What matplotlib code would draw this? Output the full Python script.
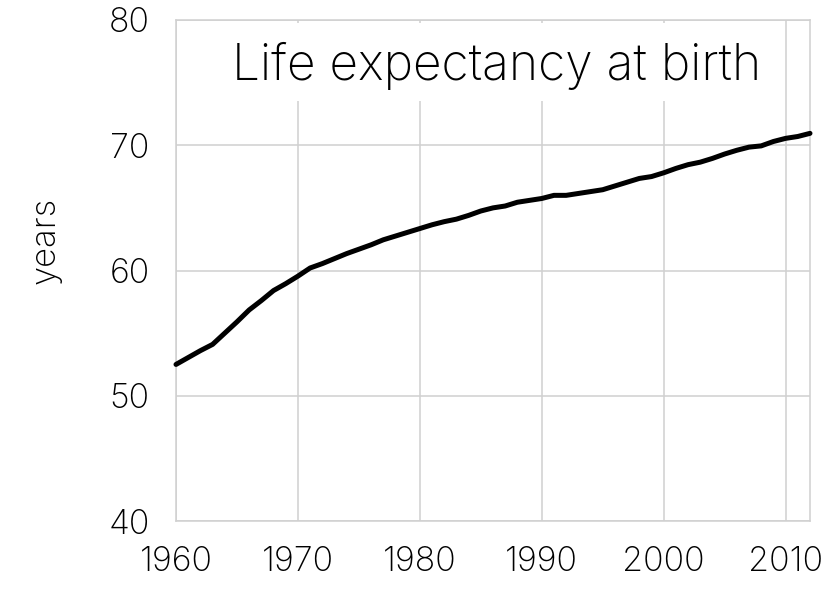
import numpy as np
import matplotlib
matplotlib.use("Agg")
import matplotlib.pyplot as plt
from matplotlib.patches import Rectangle

# world life expectancy at birth
years = list(range(1960, 2013))
life_exp = [52.5, 53.05, 53.6, 54.1, 55.0, 55.9, 56.85, 57.6, 58.4, 58.95,
            59.55, 60.2, 60.55, 60.95, 61.35, 61.7, 62.05, 62.45, 62.75, 63.05,
            63.35, 63.65, 63.9, 64.1, 64.4, 64.75, 65.0, 65.15, 65.45, 65.6,
            65.75, 66.0, 66.0, 66.15, 66.3, 66.45, 66.75, 67.05, 67.35, 67.5,
            67.8, 68.15, 68.45, 68.65, 68.95, 69.3, 69.6, 69.85, 69.95, 70.3,
            70.55, 70.7, 70.95]
xticks = [1960, 1970, 1980, 1990, 2000, 2010]
yticks = [40, 50, 60, 70, 80]
title = "Life expectancy at birth"
ylabel = "years"

plt.rcParams['font.family'] = ['Inter', 'DejaVu Sans']
grid_col = '#d0d0d0'

fig = plt.figure(figsize=(8.37, 5.94), dpi=100)
ax = fig.add_axes([176/837, 73/594, 634/837, 501/594])

ax.plot(years, life_exp, color='black', lw=3.6, solid_capstyle='round',
        solid_joinstyle='round', zorder=3, clip_on=False)

ax.set_xlim(1960, 2012)
ax.set_ylim(40, 80)
ax.set_xticks(xticks)
ax.set_yticks(yticks)
ax.tick_params(axis='both', length=0, labelsize=24.5, colors='black')
ax.tick_params(axis='y', pad=19)
ax.tick_params(axis='x', pad=18)
for lab in ax.get_xticklabels() + ax.get_yticklabels():
    lab.set_fontweight('light')

ax.set_axisbelow(True)
ax.grid(True, color=grid_col, lw=1.1)
for s in ax.spines.values():
    s.set_color(grid_col)
    s.set_linewidth(1.1)

# white panel behind the title, hides the gridlines
ax.add_patch(Rectangle((0.15, 0.838), 0.76, 0.156, transform=ax.transAxes,
                       facecolor='white', edgecolor='none', zorder=1))
ax.text(0.506, 0.881, title, transform=ax.transAxes, ha='center', va='baseline',
        fontsize=35.8, fontweight='light', color='black', zorder=4)

ax.set_ylabel(ylabel, fontsize=25, fontweight='light', color='black')
ax.yaxis.set_label_coords(-0.18, 0.56)

fig.savefig("out.png", dpi=100)
